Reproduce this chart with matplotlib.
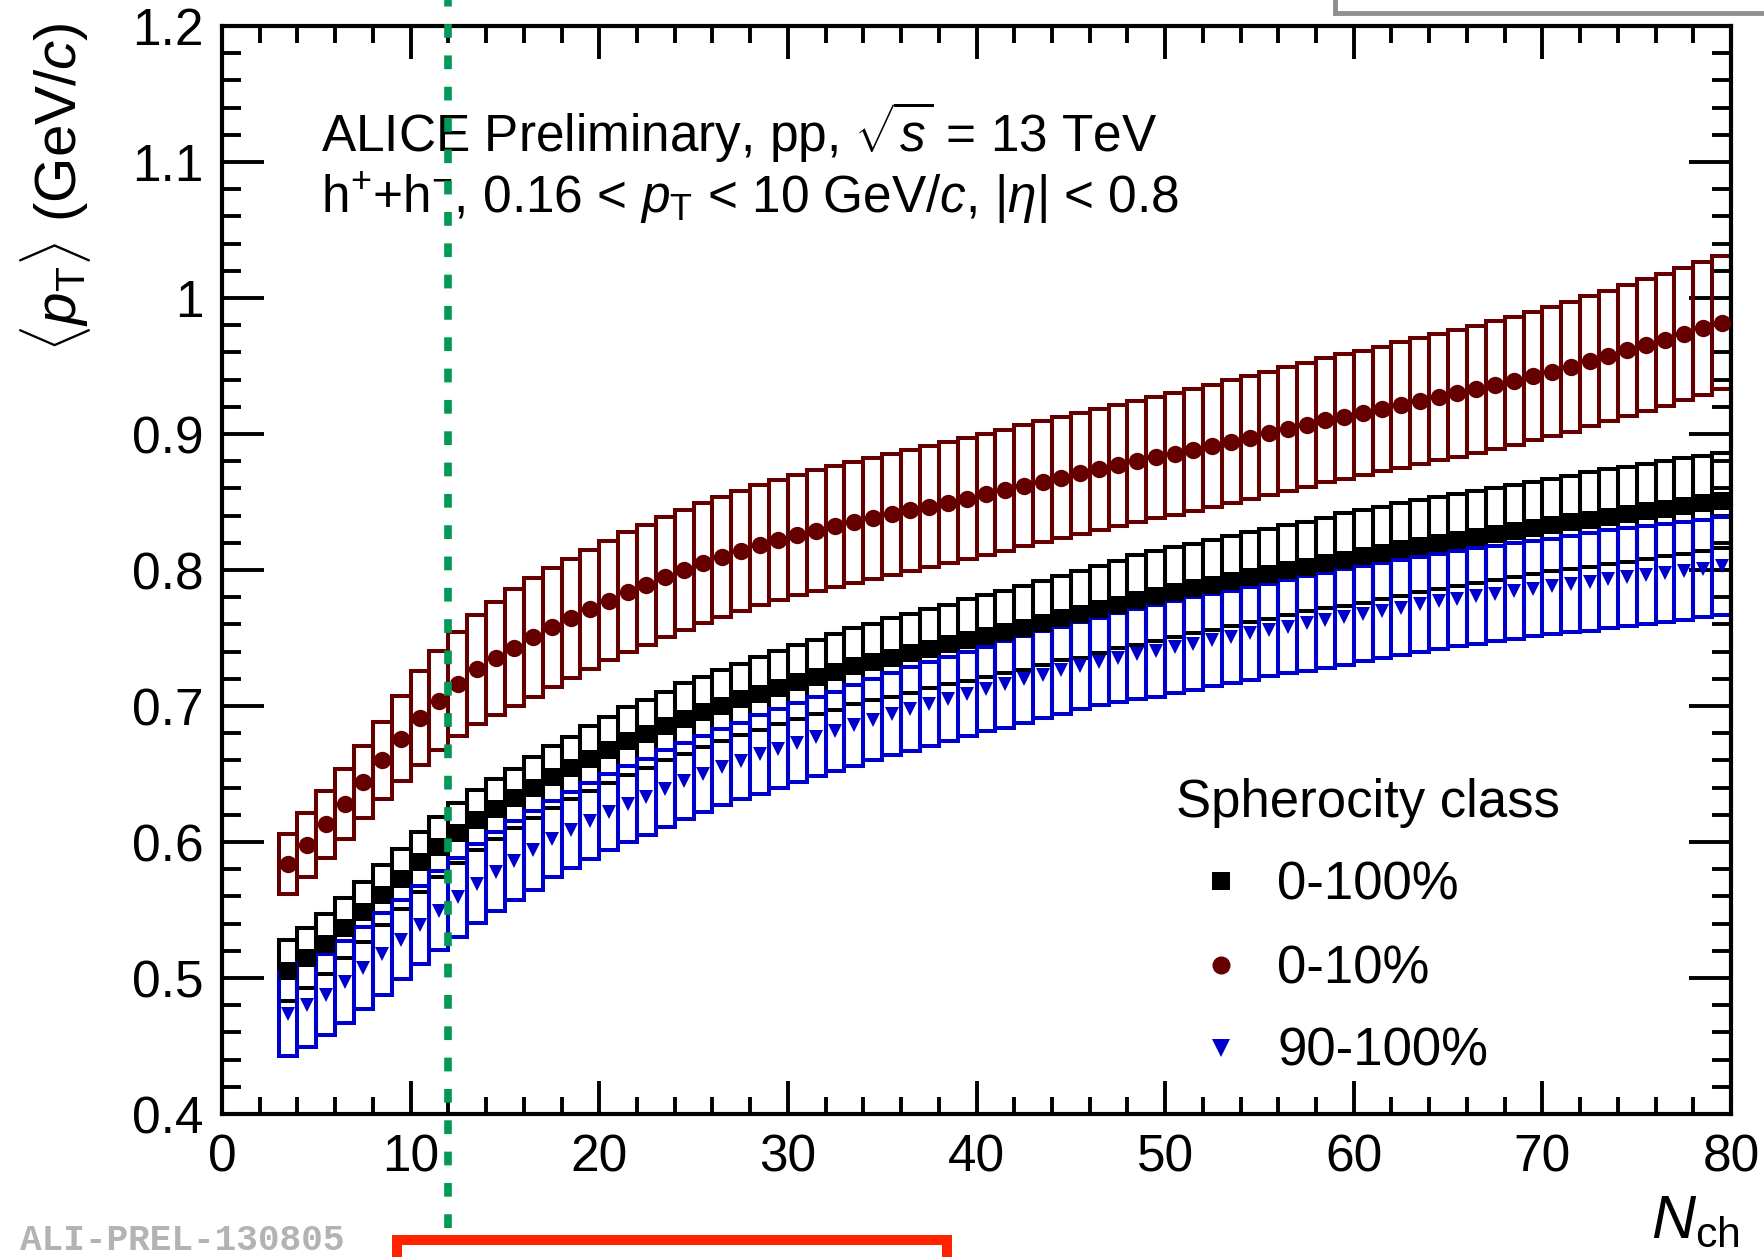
import numpy as np
import matplotlib
matplotlib.use('Agg')
import matplotlib.pyplot as plt
from matplotlib.patches import Rectangle

plt.rcParams['font.family'] = ['Liberation Sans', 'DejaVu Sans']
plt.rcParams['mathtext.fontset'] = 'custom'
plt.rcParams['mathtext.rm'] = 'Liberation Sans'
plt.rcParams['mathtext.it'] = 'Liberation Sans:italic'
plt.rcParams['mathtext.bf'] = 'Liberation Sans:bold'

# bin centres in N_ch (unit bins from 3 to 80)
nch = np.arange(3.5, 80.0, 1.0)

# <pT> for spherocity class 0-100%
pt_all = [0.5054, 0.5148, 0.5250, 0.5365, 0.5486, 0.5608, 0.5730, 0.5850, 0.5962, 0.6068,
          0.6160, 0.6240, 0.6320, 0.6400, 0.6477, 0.6545, 0.6613, 0.6677, 0.6739, 0.6796,
          0.6854, 0.6906, 0.6956, 0.7002, 0.7048, 0.7090, 0.7135, 0.7175, 0.7214, 0.7252,
          0.7293, 0.7326, 0.7355, 0.7387, 0.7421, 0.7454, 0.7485, 0.7513, 0.7546, 0.7576,
          0.7610, 0.7645, 0.7675, 0.7712, 0.7745, 0.7779, 0.7808, 0.7836, 0.7864, 0.7892,
          0.7919, 0.7946, 0.7973, 0.7999, 0.8025, 0.8051, 0.8076, 0.8101, 0.8126, 0.8151,
          0.8175, 0.8199, 0.8222, 0.8244, 0.8266, 0.8288, 0.8309, 0.8330, 0.8351, 0.8371,
          0.8391, 0.8411, 0.8431, 0.8451, 0.8471, 0.8491, 0.8511]
sys_all = [0.0225, 0.022, 0.022, 0.022, 0.022, 0.022, 0.022, 0.022, 0.022, 0.022,
           0.022, 0.022, 0.022, 0.0224, 0.023, 0.023, 0.024, 0.024, 0.025, 0.025,
           0.025, 0.026, 0.026, 0.026, 0.026, 0.027, 0.027, 0.027, 0.027, 0.028,
           0.028, 0.028, 0.029, 0.029, 0.029, 0.029, 0.030, 0.030, 0.030, 0.031,
           0.031, 0.031, 0.032, 0.032, 0.032, 0.033, 0.033, 0.033, 0.033, 0.033,
           0.033, 0.033, 0.033, 0.033, 0.033, 0.033, 0.034, 0.034, 0.034, 0.034,
           0.034, 0.034, 0.034, 0.034, 0.034, 0.034, 0.034, 0.034, 0.034, 0.035,
           0.035, 0.035, 0.035, 0.035, 0.035, 0.035, 0.035]

# <pT> for spherocity class 0-10% (jetty)
pt_jet = [0.584, 0.598, 0.613, 0.628, 0.644, 0.660, 0.676, 0.691, 0.704, 0.716,
          0.727, 0.735, 0.743, 0.7505, 0.758, 0.7646, 0.771, 0.7775, 0.7837, 0.789,
          0.7948, 0.800, 0.805, 0.8097, 0.8138, 0.8182, 0.822, 0.8257, 0.829, 0.8321,
          0.8351, 0.838, 0.841, 0.8438, 0.8466, 0.8494, 0.8525, 0.8557, 0.8588, 0.8618,
          0.8649, 0.8679, 0.871, 0.874, 0.877, 0.880, 0.8828, 0.8856, 0.8884, 0.8913,
          0.8943, 0.8973, 0.9004, 0.9036, 0.9068, 0.910, 0.9128, 0.9155, 0.9184, 0.9213,
          0.9243, 0.927, 0.9299, 0.9329, 0.936, 0.9392, 0.9426, 0.9458, 0.9495, 0.9535,
          0.9574, 0.9615, 0.9654, 0.9693, 0.9735, 0.9777, 0.9819]
sys_jet = [0.022, 0.0235, 0.0245, 0.0255, 0.0265, 0.0283, 0.031, 0.0345, 0.0367, 0.0384,
           0.040, 0.0415, 0.043, 0.0436, 0.0437, 0.0438, 0.0439, 0.044, 0.044, 0.044,
           0.044, 0.044, 0.044, 0.044, 0.044, 0.0442, 0.0442, 0.0443, 0.0443, 0.0444,
           0.0445, 0.0445, 0.0445, 0.0445, 0.0445, 0.0445, 0.0445, 0.0445, 0.0445, 0.0445,
           0.0445, 0.0445, 0.0445, 0.0445, 0.0445, 0.0445, 0.0447, 0.0448, 0.0449, 0.045,
           0.0451, 0.0452, 0.0453, 0.0454, 0.0455, 0.0456, 0.0457, 0.0458, 0.0459, 0.046,
           0.0461, 0.0463, 0.0465, 0.0467, 0.0469, 0.0471, 0.0473, 0.0475, 0.0477, 0.0479,
           0.048, 0.0482, 0.0484, 0.0486, 0.0487, 0.0489, 0.049]

# <pT> for spherocity class 90-100% (isotropic)
pt_iso = [0.4736, 0.4800, 0.4878, 0.4972, 0.5075, 0.5178, 0.5283, 0.5390, 0.5495, 0.5595,
          0.5692, 0.5780, 0.5862, 0.5940, 0.6020, 0.6087, 0.6155, 0.6220, 0.6278, 0.6333,
          0.6393, 0.6446, 0.6497, 0.6549, 0.6597, 0.6645, 0.6686, 0.6729, 0.6774, 0.6815,
          0.6858, 0.6900, 0.6940, 0.6977, 0.7013, 0.7050, 0.7088, 0.7124, 0.7160, 0.7196,
          0.7230, 0.7263, 0.7295, 0.7327, 0.7356, 0.7381, 0.7406, 0.7432, 0.7458, 0.7484,
          0.7509, 0.7534, 0.7559, 0.7583, 0.7607, 0.7631, 0.7655, 0.7678, 0.7701, 0.7724,
          0.7747, 0.7770, 0.7790, 0.7809, 0.7827, 0.7845, 0.7863, 0.7880, 0.7897, 0.7914,
          0.7931, 0.7947, 0.7963, 0.7979, 0.7995, 0.8011, 0.8027]
sys_iso = [0.031, 0.031, 0.030, 0.030, 0.030, 0.030, 0.029, 0.029, 0.029, 0.029,
           0.029, 0.029, 0.029, 0.029, 0.028, 0.028, 0.028, 0.028, 0.028, 0.028,
           0.028, 0.028, 0.028, 0.028, 0.028, 0.029, 0.029, 0.029, 0.029, 0.029,
           0.030, 0.030, 0.030, 0.031, 0.031, 0.031, 0.031, 0.031, 0.032, 0.032,
           0.032, 0.032, 0.032, 0.032, 0.033, 0.033, 0.034, 0.034, 0.034, 0.034,
           0.034, 0.034, 0.034, 0.034, 0.035, 0.035, 0.035, 0.035, 0.035, 0.035,
           0.035, 0.035, 0.035, 0.035, 0.035, 0.035, 0.035, 0.035, 0.035, 0.036,
           0.036, 0.036, 0.036, 0.036, 0.036, 0.036, 0.036]

series = [
    ('0-100%', pt_all, sys_all, 'black', 's', 13.0),
    ('0-10%', pt_jet, sys_jet, '#660000', 'o', 12.5),
    ('90-100%', pt_iso, sys_iso, '#0000cc', 'v', 10.5),
]

yticks = [0.4, 0.5, 0.6, 0.7, 0.8, 0.9, 1.0, 1.1, 1.2]
ytick_labels = ['0.4', '0.5', '0.6', '0.7', '0.8', '0.9', '1', '1.1', '1.2']
xticks = [0, 10, 20, 30, 40, 50, 60, 70, 80]

W, H = 1764, 1257
fig = plt.figure(figsize=(W / 100, H / 100), dpi=100)
ax = fig.add_axes([222 / W, 1 - 1114 / H, (1731 - 222) / W, (1114 - 26) / H])

# systematic boxes
for name, vals, errs, col, mk, ms in series:
    for x, v, e in zip(nch, vals, errs):
        ax.add_patch(Rectangle((x - 0.5, v - e), 1.0, 2 * e, fill=False,
                               edgecolor=col, linewidth=2.9, zorder=2))
# markers
for name, vals, errs, col, mk, ms in series:
    ax.plot(nch, vals, linestyle='none', marker=mk, markersize=ms,
            color=col, markeredgewidth=0, zorder=4)

ax.set_xlim(0, 80)
ax.set_ylim(0.4, 1.2)
ax.set_xticks(xticks)
ax.set_xticklabels([str(t) for t in xticks])
ax.set_xticks(np.arange(0, 81, 2), minor=True)
ax.set_yticks(yticks)
ax.set_yticklabels(ytick_labels)
ax.set_yticks(np.arange(0.4, 1.2001, 0.02), minor=True)

ax.tick_params(which='both', direction='in', top=True, right=True, width=2.8, labelsize=37)
ax.tick_params(axis='x', which='major', length=24, pad=14)
ax.tick_params(axis='x', which='minor', length=12)
ax.tick_params(axis='y', which='major', length=30, pad=13)
ax.tick_params(axis='y', which='minor', length=14)
for sp in ax.spines.values():
    sp.set_linewidth(3)

# green dashed line at N_ch = 12, running past the frame
ax.axvline(12, ymin=-(1228 - 1114) / 1088, ymax=1.05, color='#009955', linewidth=5.5,
           dashes=(1.8, 2.3), dash_capstyle='butt', clip_on=False, zorder=10)

ax.text(0.0656, 0.884, r'ALICE Preliminary, pp, $\sqrt{s}$ = 13 TeV', transform=ax.transAxes,
        fontsize=37, va='baseline', ha='left', zorder=5)
ax.text(0.0656, 0.828, r'h$^{+}$+h$^{-}$, 0.16 < $p_{\rm T}$ < 10 GeV/$c$, |$\eta$| < 0.8',
        transform=ax.transAxes, fontsize=37, va='baseline', ha='left', zorder=5)

# legend drawn by hand
ax.text((1176 - 222) / 1509, (1114 - 817) / 1088, 'Spherocity class', transform=ax.transAxes,
        fontsize=38, va='baseline', ha='left')
leg_rows = [881, 965, 1048]
for (name, vals, errs, col, mk, ms), py in zip(series, leg_rows):
    ax.plot([(1221 - 222) / 1509], [(1114 - py) / 1088], transform=ax.transAxes,
            marker=mk, markersize=13, color=col, markeredgewidth=0, linestyle='none')
    ax.text((1277 - 222) / 1509, (1114 - py - 18) / 1088, name, transform=ax.transAxes,
            fontsize=38, va='baseline', ha='left')

fig.text(56 / W, 1 - 22 / H, r'$\langle p_{\rm T}\rangle$ (GeV/$c$)', rotation=90,
         fontsize=42, ha='center', va='top')
fig.text(1740 / W, (H - 1237) / H, r'$N_{\rm ch}$', fontsize=44, ha='right', va='baseline')

fig.text(20 / W, 7 / H, 'ALI-PREL-130805', family=['Liberation Mono', 'DejaVu Sans Mono'],
         weight='bold', color='#b3b3b3', fontsize=26, ha='left', va='baseline')

# pieces of neighbouring panels cut off by the crop
fig.add_artist(Rectangle((1335 / W, 1 - 13 / H), 0.5, 0.5, transform=fig.transFigure,
                         facecolor='white', edgecolor='#8f8f8f', linewidth=3.5))
fig.add_artist(Rectangle((397 / W, -0.1), (947 - 397) / W, 0.1 + (H - 1240) / H,
                         transform=fig.transFigure, facecolor='none', edgecolor='#ff2200',
                         linewidth=7.2))

fig.savefig('out.png', dpi=100)
